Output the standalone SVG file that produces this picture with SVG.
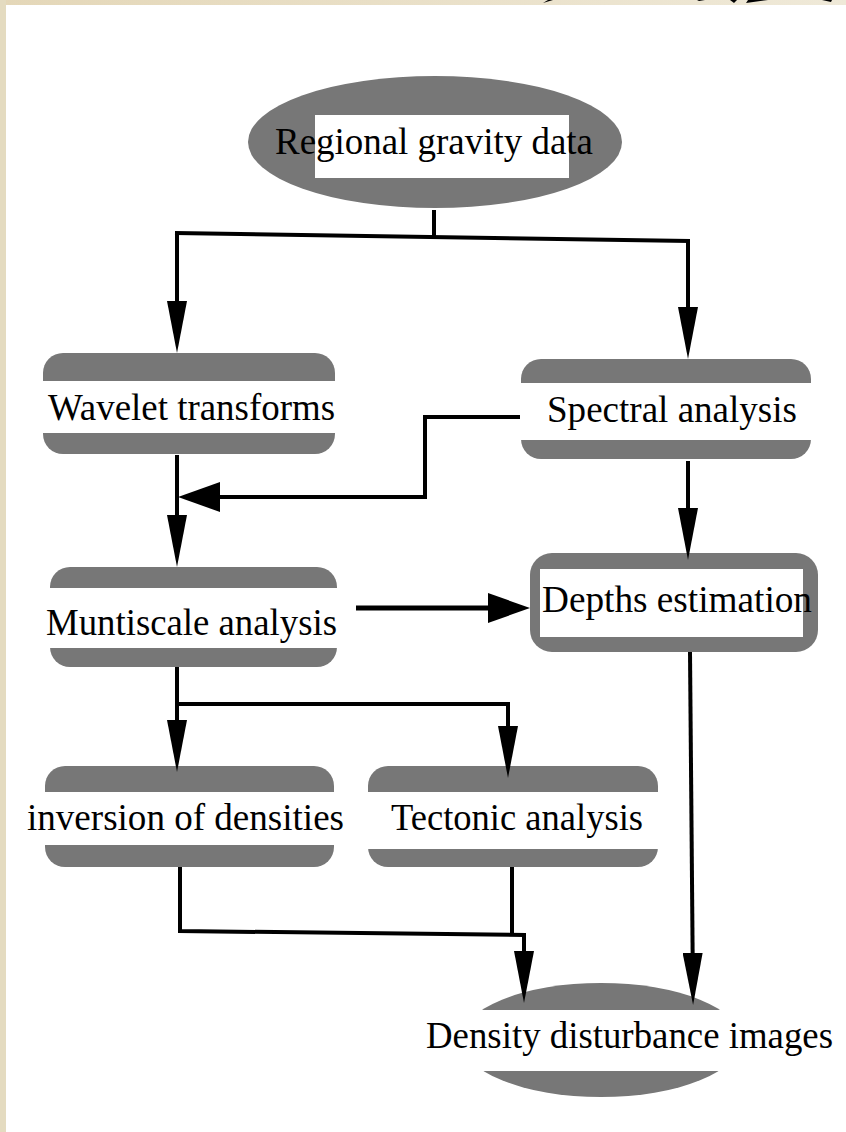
<svg xmlns="http://www.w3.org/2000/svg" width="846" height="1132" viewBox="0 0 846 1132">
  <defs>
    <linearGradient id="beigeTop" x1="0" y1="0" x2="1" y2="0">
      <stop offset="0" stop-color="#e4d7b8"/>
      <stop offset="1" stop-color="#efe9d8"/>
    </linearGradient>
    <marker id="arrNarrow" markerUnits="userSpaceOnUse" markerWidth="52" markerHeight="20" viewBox="0 0 52 20" refX="42" refY="10" orient="auto">
      <path d="M0,0 L52,10 L0,20 Z" fill="#000"/>
    </marker>
    <marker id="arrWide" markerUnits="userSpaceOnUse" markerWidth="42" markerHeight="30" viewBox="0 0 42 30" refX="32" refY="15" orient="auto">
      <path d="M0,0 L42,15 L0,30 Z" fill="#000"/>
    </marker>
  </defs>
  <style>
    .gray { fill: #777777; }
    .band { fill: #ffffff; }
    .label { font-family: "Liberation Serif", "Times New Roman", serif; font-size: 38px; fill: #000; }
    .conn { fill: none; stroke: #000; stroke-width: 4; stroke-linejoin: miter; }
  </style>

  <rect x="0" y="0" width="846" height="1132" fill="#ffffff"/>
  <rect x="0" y="0" width="846" height="5" fill="url(#beigeTop)"/>
  <rect x="0" y="0" width="6" height="1132" fill="#e4dbc0"/>
  <g id="corner-marks" fill="#000">
    <polygon points="543,3 553,0 548,0"/>
    <polygon points="697,0 705,0 699,1"/>
    <polygon points="730,0 737,0 734,3"/>
    <polygon points="746,3 768,0 748,0"/>
    <polygon points="822,0 832,0 831,2"/>
  </g>

  <g id="node-regional">
    <ellipse class="gray" cx="435" cy="142" rx="187" ry="66"/>
    <rect class="band" x="315" y="115" width="254" height="63"/>
    <text class="label" x="275" y="154" textLength="318" lengthAdjust="spacingAndGlyphs">Regional gravity data</text>
  </g>

  <g id="node-wavelet">
    <rect class="gray" x="43" y="353" width="292" height="101" rx="20" ry="20"/>
    <rect class="band" x="43" y="381" width="292" height="52"/>
    <text class="label" x="48" y="420" textLength="287" lengthAdjust="spacingAndGlyphs">Wavelet transforms</text>
  </g>

  <g id="node-spectral">
    <rect class="gray" x="521" y="359" width="290" height="100" rx="20" ry="20"/>
    <rect class="band" x="521" y="383" width="290" height="57"/>
    <text class="label" x="547" y="422" textLength="250" lengthAdjust="spacingAndGlyphs">Spectral analysis</text>
  </g>

  <g id="node-muntiscale">
    <rect class="gray" x="50" y="567" width="287" height="100" rx="20" ry="20"/>
    <rect class="band" x="50" y="588" width="287" height="60"/>
    <text class="label" x="46" y="635" textLength="291" lengthAdjust="spacingAndGlyphs">Muntiscale analysis</text>
  </g>

  <g id="node-depths">
    <rect class="gray" x="530" y="553" width="288" height="99" rx="22" ry="22"/>
    <rect class="band" x="540" y="569" width="263" height="68"/>
    <text class="label" x="542" y="612" textLength="270" lengthAdjust="spacingAndGlyphs">Depths estimation</text>
  </g>

  <g id="node-inversion">
    <rect class="gray" x="45" y="766" width="289" height="101" rx="20" ry="20"/>
    <rect class="band" x="45" y="792" width="289" height="53"/>
    <text class="label" x="27" y="830" textLength="317" lengthAdjust="spacingAndGlyphs">inversion of densities</text>
  </g>

  <g id="node-tectonic">
    <rect class="gray" x="368" y="766" width="290" height="101" rx="20" ry="20"/>
    <rect class="band" x="368" y="792" width="290" height="57"/>
    <text class="label" x="391" y="830" textLength="252" lengthAdjust="spacingAndGlyphs">Tectonic analysis</text>
  </g>

  <g id="node-density">
    <ellipse class="gray" cx="601" cy="1040" rx="140" ry="57"/>
    <rect class="band" x="440" y="1010" width="322" height="61"/>
    <text class="label" x="426" y="1048" textLength="407" lengthAdjust="spacingAndGlyphs">Density disturbance images</text>
  </g>

  <g id="connectors">
    <path class="conn" d="M434,210 V237"/>
    <path class="conn" d="M175,233 L690,241"/>
    <path class="conn" d="M177,233 V343" marker-end="url(#arrNarrow)"/>
    <path class="conn" d="M688,241 V349" marker-end="url(#arrNarrow)"/>
    <path class="conn" d="M177,455 V557" marker-end="url(#arrNarrow)"/>
    <path class="conn" d="M520,417 H425 V497 H188" marker-end="url(#arrWide)"/>
    <path class="conn" d="M688,461 V550" marker-end="url(#arrNarrow)"/>
    <path class="conn" style="stroke-width:5" d="M356,608 H520" marker-end="url(#arrWide)"/>
    <path class="conn" d="M177,667 V762" marker-end="url(#arrNarrow)"/>
    <path class="conn" d="M177,704 H508 V768" marker-end="url(#arrNarrow)"/>
    <path class="conn" d="M180,867 V931 L524,935 V993" marker-end="url(#arrNarrow)"/>
    <path class="conn" d="M512,867 V933"/>
    <path class="conn" d="M690,652 L693,995" marker-end="url(#arrNarrow)"/>
  </g>
</svg>
